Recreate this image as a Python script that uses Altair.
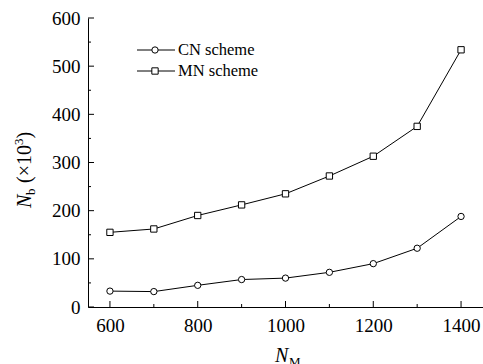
import altair as alt
import pandas as pd

n_m = [600, 700, 800, 900, 1000, 1100, 1200, 1300, 1400]
cn_vals = [33, 32, 45, 57, 60, 72, 90, 122, 188]
mn_vals = [155, 162, 190, 212, 235, 272, 313, 375, 534]
series_names = ["CN scheme", "MN scheme"]
y_major = [0, 100, 200, 300, 400, 500, 600]
y_minor = [50, 150, 250, 350, 450, 550]
x_major = [600, 800, 1000, 1200, 1400]
x_minor = [700, 900, 1100, 1300]

W, H = 395, 289
FONT = "'Liberation Serif', 'Times New Roman', Times, serif"

df = pd.DataFrame({
    "N_M": n_m * 2,
    "Nb": cn_vals + mn_vals,
    "series": [series_names[0]] * len(n_m) + [series_names[1]] * len(n_m),
})

xs = alt.Scale(domain=[550, 1450], nice=False, zero=False)
ys = alt.Scale(domain=[0, 600], nice=False)

x_axis = alt.Axis(values=x_major, ticks=False, tickSize=0, grid=False, labelPadding=9,
                  labelFont=FONT, labelFontSize=19, labelColor="black", format="d",
                  domainColor="black", domainWidth=1, title=None)
y_axis = alt.Axis(values=y_major, ticks=False, tickSize=0, grid=False, labelPadding=8,
                  labelFont=FONT, labelFontSize=19, labelColor="black", format="d",
                  domainColor="black", domainWidth=1, title=None)

shape_scale = alt.Scale(domain=series_names, range=["circle", "square"])

lines = alt.Chart(df).mark_line(color="black", strokeWidth=1).encode(
    x=alt.X("N_M:Q", scale=xs, axis=x_axis),
    y=alt.Y("Nb:Q", scale=ys, axis=y_axis),
    detail="series:N",
)
points = alt.Chart(df).mark_point(filled=True, fill="white", stroke="black",
                                  strokeWidth=1, size=40, opacity=1).encode(
    x=alt.X("N_M:Q", scale=xs),
    y=alt.Y("Nb:Q", scale=ys),
    shape=alt.Shape("series:N", scale=shape_scale, legend=None),
)

# inward ticks
ytick_major = alt.Chart(pd.DataFrame({"v": y_major})).mark_rule(color="black", strokeWidth=1).encode(
    y=alt.Y("v:Q", scale=ys), x=alt.value(0), x2=alt.value(6))
ytick_minor = alt.Chart(pd.DataFrame({"v": y_minor})).mark_rule(color="black", strokeWidth=1).encode(
    y=alt.Y("v:Q", scale=ys), x=alt.value(0), x2=alt.value(3))
xtick_major = alt.Chart(pd.DataFrame({"v": x_major})).mark_rule(color="black", strokeWidth=1).encode(
    x=alt.X("v:Q", scale=xs), y=alt.value(H), y2=alt.value(H - 6))
xtick_minor = alt.Chart(pd.DataFrame({"v": x_minor})).mark_rule(color="black", strokeWidth=1).encode(
    x=alt.X("v:Q", scale=xs), y=alt.value(H), y2=alt.value(H - 3))

one = pd.DataFrame({"a": [0]})

# legend
leg = []
for i, (name, shp) in enumerate(zip(series_names, ["circle", "square"])):
    yy = 32 + i * 21
    leg.append(alt.Chart(one).mark_rule(color="black", strokeWidth=1).encode(
        x=alt.value(49), x2=alt.value(87), y=alt.value(yy)))
    leg.append(alt.Chart(one).mark_point(filled=True, fill="white", stroke="black",
                                         strokeWidth=1, size=40, shape=shp, opacity=1).encode(
        x=alt.value(67), y=alt.value(yy)))
    leg.append(alt.Chart(one).mark_text(text=name, font=FONT, fontSize=16.5, align="left",
                                        baseline="middle", color="black").encode(
        x=alt.value(90), y=alt.value(yy)))

# y title: N_b (x10^3), rotated
bx = -57
ytitle = [
    alt.Chart(one).mark_text(text="N", font=FONT, fontSize=20, fontStyle="italic", angle=270,
                             align="left", baseline="alphabetic", color="black").encode(
        x=alt.value(bx), y=alt.value(190)),
    alt.Chart(one).mark_text(text="b", font=FONT, fontSize=13, angle=270,
                             align="left", baseline="alphabetic", color="black").encode(
        x=alt.value(bx + 4), y=alt.value(177)),
    alt.Chart(one).mark_text(text="(×10", font=FONT, fontSize=20, angle=270,
                             align="left", baseline="alphabetic", color="black").encode(
        x=alt.value(bx), y=alt.value(165)),
    alt.Chart(one).mark_text(text="3", font=FONT, fontSize=13, angle=270,
                             align="left", baseline="alphabetic", color="black").encode(
        x=alt.value(bx - 8), y=alt.value(127)),
    alt.Chart(one).mark_text(text=")", font=FONT, fontSize=20, angle=270,
                             align="left", baseline="alphabetic", color="black").encode(
        x=alt.value(bx), y=alt.value(120.5)),
]

xtitle = [
    alt.Chart(one).mark_text(text="N", font=FONT, fontSize=20, fontStyle="italic",
                             align="left", baseline="alphabetic", color="black").encode(
        x=alt.value(187), y=alt.value(344)),
    alt.Chart(one).mark_text(text="M", font=FONT, fontSize=13,
                             align="left", baseline="alphabetic", color="black").encode(
        x=alt.value(201), y=alt.value(348)),
]

chart = alt.layer(lines, points, ytick_major, ytick_minor, xtick_major, xtick_minor,
                  *leg, *ytitle, *xtitle).properties(
    width=W, height=H,
    autosize=alt.AutoSizeParams(type="none"),
    padding={"left": 88, "top": 18, "right": 0, "bottom": 57},
    background="white",
).configure_view(stroke=None)

chart.save("out.html", embed_options={"renderer": "svg", "actions": False})
